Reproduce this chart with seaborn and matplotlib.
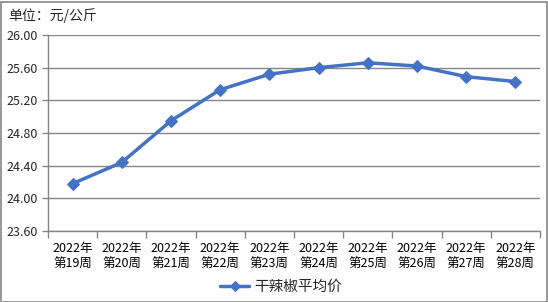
import matplotlib
matplotlib.use("Agg")
import matplotlib.pyplot as plt
import seaborn as sns
import pandas as pd
from matplotlib.patches import Rectangle
from matplotlib.ticker import FixedLocator, FormatStrFormatter

weeks = ["2022年\n第19周", "2022年\n第20周", "2022年\n第21周", "2022年\n第22周", "2022年\n第23周",
         "2022年\n第24周", "2022年\n第25周", "2022年\n第26周", "2022年\n第27周", "2022年\n第28周"]
prices = [24.18, 24.44, 24.95, 25.33, 25.52, 25.60, 25.66, 25.62, 25.49, 25.43]
series_name = "干辣椒平均价"
unit_label = "单位：元/公斤"
y_ticks = [23.60, 24.00, 24.40, 24.80, 25.20, 25.60, 26.00]

sns.set_theme(style="white")
plt.rcParams['font.family'] = ['Noto Sans CJK SC', 'DejaVu Sans']

df = pd.DataFrame({"week": weeks, "price": prices, "series": series_name})

fig = plt.figure(figsize=(5.48, 3.02), dpi=100)
ax = fig.add_axes([48/548, 1-231/302, (540-48)/548, (231-35)/302])

color = "#4472C4"
sns.lineplot(data=df, x="week", y="price", ax=ax, sort=False, color=color,
             linewidth=2.5, marker="D", markersize=6.5, markeredgecolor=color,
             label=series_name, legend=False)

ax.set_xlim(-0.5, len(weeks) - 0.5)
ax.set_ylim(y_ticks[0], y_ticks[-1])
ax.set_yticks(y_ticks)
ax.yaxis.set_major_formatter(FormatStrFormatter("%.2f"))
ax.set_xticks(range(len(weeks)))
ax.set_xticklabels(weeks, fontsize=9, linespacing=1.3)
ax.xaxis.set_minor_locator(FixedLocator([i - 0.5 for i in range(len(weeks) + 1)]))
ax.tick_params(axis="x", which="major", length=0, pad=8, colors="black", labelsize=9)
ax.tick_params(axis="x", which="minor", length=5, width=1, color="#868686", direction="out", bottom=True)
ax.tick_params(axis="y", length=4, width=1, color="#868686", direction="out", left=True, labelsize=9, pad=3)
ax.grid(axis="y", color="#868686", linewidth=1)
ax.set_axisbelow(True)
ax.set_xlabel("")
ax.set_ylabel("")
for s in ["top", "right"]:
    ax.spines[s].set_visible(False)
for s in ["left", "bottom"]:
    ax.spines[s].set_color("#868686")
    ax.spines[s].set_linewidth(1)

fig.text(8/548, 1-16/302, unit_label, fontsize=10, va="center", ha="left")

handles, labels = ax.get_legend_handles_labels()
leg = fig.legend(handles, labels, loc="center", bbox_to_anchor=(281/548, 1-287/302), frameon=False,
                 fontsize=10.5, handlelength=2.0, handletextpad=0.35)
for ln in leg.get_lines():
    ln.set_markersize(5)

fig.patches.append(Rectangle((0.5/548, 0.5/302), 1-2/548, 1-2/302, transform=fig.transFigure,
                             fill=False, edgecolor="#868686", linewidth=1.2))

fig.savefig("out.png", dpi=100)
